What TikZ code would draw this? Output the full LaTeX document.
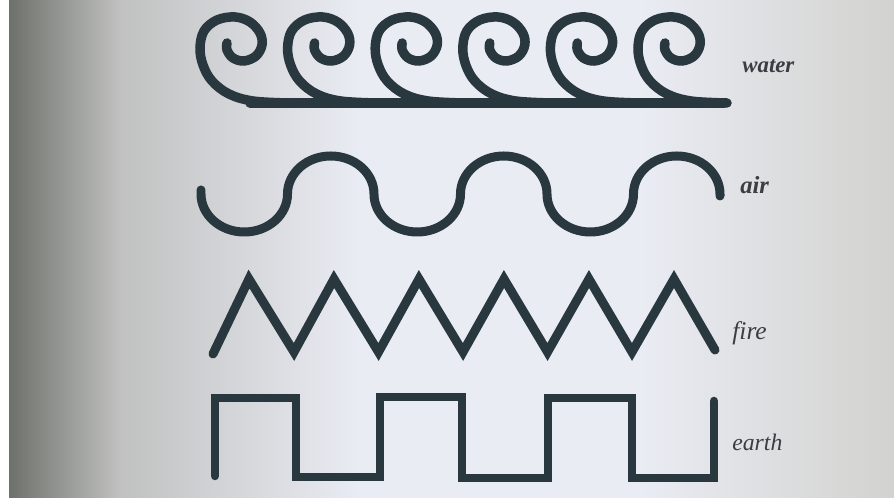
\documentclass[tikz,border=0pt]{standalone}
\usepackage{fontspec}
\newfontfamily\glossfont{Liberation Serif}
\usetikzlibrary{positioning}
\definecolor{inkslate}{RGB}{40,56,62}
\definecolor{labelgray}{RGB}{58,62,66}
\definecolor{bgdark}{RGB}{110,113,107}
\definecolor{bgmid}{RGB}{192,193,192}
\definecolor{bglight}{RGB}{234,236,244}
\definecolor{bgright}{RGB}{210,210,206}
\tikzset{
  glyph/.style={draw=inkslate, line width=#1, line cap=round, line join=miter},
  glyph/.default=0.18cm,
  elemlabel/.style={anchor=base west, inner sep=0pt, text=labelgray, font=\glossfont\itshape},
}

\begin{document}
\begin{tikzpicture}[x=0.02cm, y=-0.02cm]
    \useasboundingbox (0,0) rectangle (894,502);
    % photographed page
    \fill[white] (0,0) rectangle (894,502);
    \fill[left color=bgdark, right color=bgmid] (9,0) rectangle (120,498);
    \fill[left color=bgmid, right color=bglight] (120,0) rectangle (360,498);
    \fill[bglight] (360,0) rectangle (640,498);
    \fill[left color=bglight, right color=bgright] (640,0) rectangle (894,498);
    % water
    \draw[glyph=0.19cm] (250,103) -- (724,103);
    \foreach \i in {0,...,5} {
      \begin{scope}[shift={(227+87.6*\i,43)}]
        \draw[glyph=0.19cm] plot[smooth, tension=0.6] coordinates {(62,60) (26,58) (2,51) (-15,38)
          (-24,22) (-27,5) (-23,-12) (-10,-23) (8,-26) (23,-21) (33,-10) (35,2) (29,13) (17,18)
          (6,15) (0,7) (0,0)};
      \end{scope}
    }
    \node[elemlabel, font=\glossfont\bfseries\itshape\fontsize{13}{15}\selectfont] (water) at (742,73) {water};
    % air
    \draw[glyph] (201,190) -- (201,194) \foreach \k in {1,2,3} {
        arc[start angle=180, end angle=0, x radius=43.25, y radius=38]
        arc[start angle=180, end angle=360, x radius=43.25, y radius=38] } -- ++(0,2);
    \node[elemlabel, font=\glossfont\bfseries\itshape\fontsize{14}{16}\selectfont] (air) at (740,194) {air};
    % fire
    \draw[glyph] (213,354) \foreach \k in {0,...,4} { -- (249+85*\k,279) -- (294+84.5*\k,352) }
      -- (674,279) -- (715,350);
    \node[elemlabel, font=\glossfont\itshape\fontsize{14.5}{16}\selectfont] (fire) at (732,340) {fire};
    % earth
    \draw[glyph=0.17cm] (215,476) |- (296,398) |- (380,477) |- (462,397) |- (548,478)
      |- (632,398) |- (714,478) -- (714,401);
    \node[elemlabel, font=\glossfont\itshape\fontsize{13.5}{16}\selectfont] (earth) at (732,451) {earth};
\end{tikzpicture}
\end{document}
